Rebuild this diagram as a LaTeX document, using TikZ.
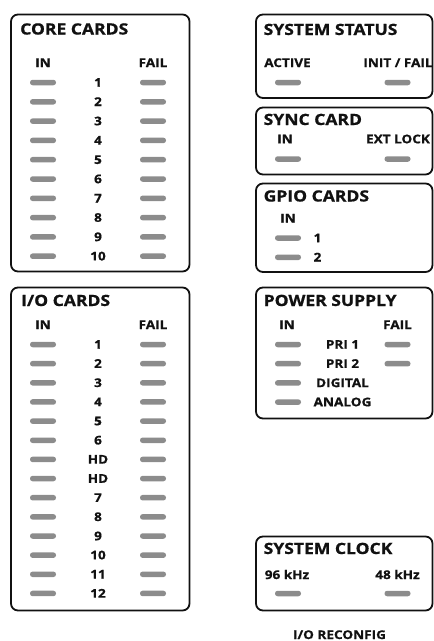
\documentclass[tikz,border=0pt]{standalone}
\usepackage{fontspec}
\setmainfont{Open Sans}[FakeStretch=1.13, BoldFeatures={FakeBold=0.9}]
\definecolor{ledgray}{RGB}{140,140,140}
\definecolor{ink}{RGB}{17,17,17}
\begin{document}
\begin{tikzpicture}[x=1pt,y=-1pt,
  panel/.style={draw=ink, line width=1.8pt, rounded corners=7pt},
  led/.style={fill=ledgray, draw=none, rounded corners=2.6pt, minimum width=26pt, minimum height=5.5pt, inner sep=0pt},
  ttl/.style={anchor=base west, inner sep=0pt, text=ink, font=\fontsize{15.5}{18}\selectfont\bfseries},
  lbl/.style={anchor=base, inner sep=0pt, text=ink, font=\fontsize{12}{14}\selectfont\bfseries},
]
\useasboundingbox (0,0) rectangle (434,641);

% ---------- CORE CARDS ----------
\draw[panel] (11,14.5) rectangle (189.5,271.5);
\node[ttl] (coreT) at (20,34.5) {CORE CARDS};
\node[lbl] (coreIn) at (43,67) {IN};
\node[lbl] (coreFail) at (153,67) {FAIL};
\foreach \i in {1,...,10} {
  \pgfmathsetmacro\yy{82.5+(\i-1)*19.3}
  \node[led] (coreInL\i) at (43,\yy) {};
  \node[lbl] (coreN\i) at (98,{\yy+4.2}) {\i};
  \node[led] (coreFailL\i) at (153,\yy) {};
}

% ---------- I/O CARDS ----------
\draw[panel] (11,287.5) rectangle (189.5,610.5);
\node[ttl] (ioT) at (21,306) {I/O CARDS};
\node[lbl] (ioIn) at (43,329) {IN};
\node[lbl] (ioFail) at (153,329) {FAIL};
\foreach \t [count=\i] in {1,2,3,4,5,6,HD,HD,7,8,9,10,11,12} {
  \pgfmathsetmacro\yy{344.5+(\i-1)*19.15}
  \node[led] (ioInL\i) at (43,\yy) {};
  \node[lbl] (ioN\i) at (98,{\yy+4.2}) {\t};
  \node[led] (ioFailL\i) at (153,\yy) {};
}

% ---------- SYSTEM STATUS ----------
\draw[panel] (256,14.5) rectangle (432.5,98);
\node[ttl] (ssT) at (263.5,35) {SYSTEM STATUS};
\node[lbl] (ssAct) at (287.5,67) {ACTIVE};
\node[lbl] (ssInit) at (398,67) {INIT / FAIL};
\node[led] (ssActL) at (288,82.5) {};
\node[led] (ssInitL) at (397.5,82.5) {};

% ---------- SYNC CARD ----------
\draw[panel] (256,107.5) rectangle (432.5,174.5);
\node[ttl] (scT) at (263.5,125) {SYNC CARD};
\node[lbl] (scIn) at (285,143.3) {IN};
\node[lbl] (scExt) at (398,143.3) {EXT LOCK};
\node[led] (scInL) at (288,159) {};
\node[led] (scExtL) at (397.5,159) {};

% ---------- GPIO CARDS ----------
\draw[panel] (256,183.5) rectangle (432.5,272);
\node[ttl] (gpT) at (263.5,201.5) {GPIO CARDS};
\node[lbl] (gpIn) at (288,222.5) {IN};
\node[led] (gpL1) at (288,238) {};
\node[lbl] (gpN1) at (317.5,242.2) {1};
\node[led] (gpL2) at (288,257.3) {};
\node[lbl] (gpN2) at (317.5,261.5) {2};

% ---------- POWER SUPPLY ----------
\draw[panel] (256,287.5) rectangle (432.5,418.5);
\node[ttl] (psT) at (263.5,306) {POWER SUPPLY};
\node[lbl] (psIn) at (287,329) {IN};
\node[lbl] (psFail) at (397.5,329) {FAIL};
\foreach \t [count=\i] in {PRI 1,PRI 2,DIGITAL,ANALOG} {
  \pgfmathsetmacro\yy{344.5+(\i-1)*19.2}
  \node[led] (psInL\i) at (288,\yy) {};
  \node[lbl] (psN\i) at (342.5,{\yy+4.2}) {\t};
}
\node[led] (psFailL1) at (397.5,344.5) {};
\node[led] (psFailL2) at (397.5,363.7) {};

% ---------- SYSTEM CLOCK ----------
\draw[panel] (256,536.5) rectangle (432.5,610.5);
\node[ttl] (clT) at (263.5,554) {SYSTEM CLOCK};
\node[lbl] (cl96) at (287,579) {96 kHz};
\node[lbl] (cl48) at (397.5,579) {48 kHz};
\node[led] (cl96L) at (288,593.5) {};
\node[led] (cl48L) at (397.5,593.5) {};

% ---------- bottom label ----------
\node[lbl] (reconf) at (339.5,639) {I/O RECONFIG};
\end{tikzpicture}
\end{document}
